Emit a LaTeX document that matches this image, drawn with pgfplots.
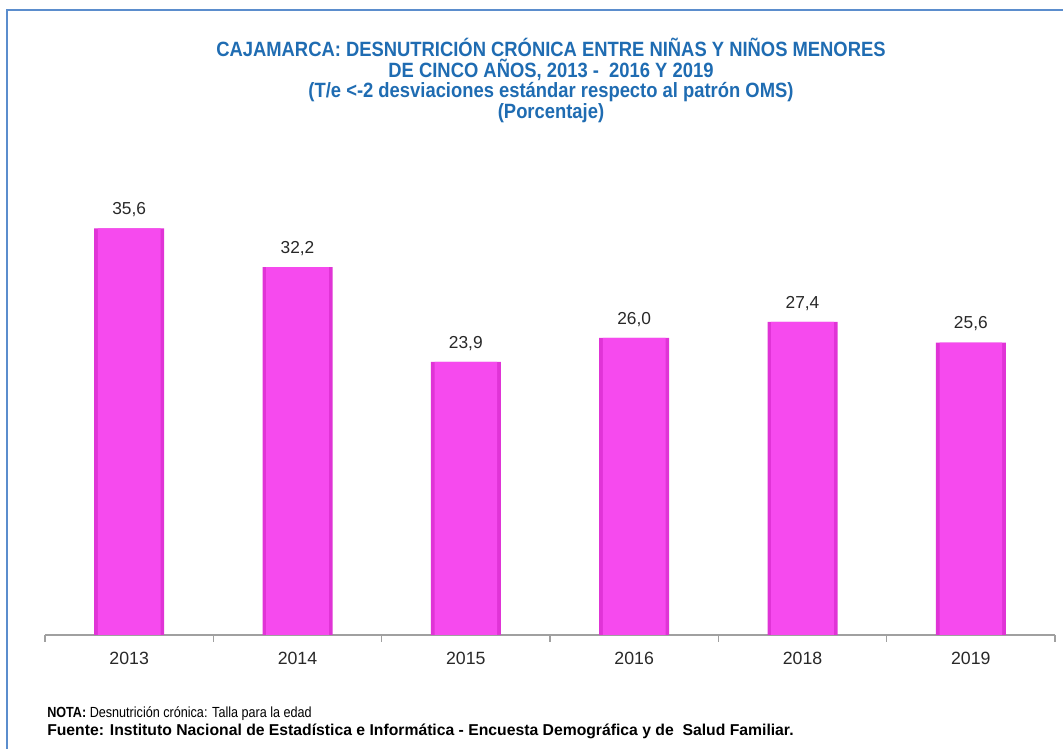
\documentclass[border=0pt]{standalone}
\usepackage{pgfplots}
\pgfplotsset{compat=1.18}
\usepackage{fontspec}
\setmainfont{Liberation Sans}
\newfontfamily\narrow[FakeStretch=0.86]{Liberation Sans}
\newfontfamily\titlefont[FakeStretch=0.89]{Liberation Sans}
\definecolor{titleblue}{RGB}{31,108,178}
\definecolor{frameblue}{RGB}{91,141,205}
\definecolor{mag}{RGB}{246,74,238}
\definecolor{magd}{RGB}{224,52,214}
\definecolor{axgray}{RGB}{160,160,160}
\definecolor{txt}{RGB}{40,40,40}
\begin{document}
\begin{tikzpicture}
\path[use as bounding box] (0,0) rectangle (797.25pt,561.75pt);
\draw[frameblue, line width=2.2pt] (5.25pt,-10pt) -- (5.25pt,554.25pt) -- (810pt,554.25pt);
\begin{axis}[
  at={(33.75pt,85.5pt)}, anchor=south west,
  scale only axis, width=757.5pt, height=342.75pt,
  xmin=-0.5, xmax=5.5, ymin=0, ymax=40,
  hide y axis,
  axis x line=bottom,
  x axis line style={-, draw=axgray, line width=1.3pt},
  xtick={0,1,2,3,4,5},
  xticklabels={2013,2014,2015,2016,2018,2019},
  major tick length=0pt,
  minor xtick={-0.5,0.5,1.5,2.5,3.5,4.5,5.5},
  minor tick length=5pt,
  tick align=outside,
  minor tick style={draw=axgray, line width=1pt},
  xticklabel style={font=\fontsize{13.3}{15}\selectfont, text=txt, yshift=-9pt},
  /pgf/number format/assume math mode=true,
  /pgf/number format/.cd, fixed, fixed zerofill, precision=1, use comma,
  /pgfplots/.cd,
  every node near coord/.append style={font=\fontsize{13}{15}\selectfont, text=txt, yshift=5pt},
  ybar, bar shift=0pt,
  clip=false,
]
\addplot[draw=none, fill=magd, bar width=52.5pt] coordinates {
(0,35.6) (1,32.2) (2,23.9) (3,26.0) (4,27.4) (5,25.6)};
\addplot[draw=none, fill=mag, bar width=47pt, nodes near coords] coordinates {
(0,35.6) (1,32.2) (2,23.9) (3,26.0) (4,27.4) (5,25.6)};
\end{axis}
\begin{scope}[every node/.style={text=titleblue, font=\titlefont\bfseries\fontsize{15.5}{18}\selectfont, inner sep=0pt}]
\node at (413.25pt,526.5pt) {CAJAMARCA: DESNUTRICIÓN CRÓNICA ENTRE NIÑAS Y NIÑOS MENORES};
\node at (413.25pt,509.25pt) {DE CINCO AÑOS, 2013 -\ \ 2016 Y 2019};
\node at (413.25pt,492.75pt) {(T/e <-2 desviaciones estándar respecto al patrón OMS)};
\node at (413.25pt,477pt) {(Porcentaje)};
\end{scope}
\node[anchor=west, inner sep=0pt, font=\narrow\fontsize{11}{13}\selectfont, text=black] at (35.25pt,26.25pt) {\textbf{NOTA:} Desnutrición crónica: Talla para la edad};
\node[anchor=west, inner sep=0pt, font=\bfseries\fontsize{11.8}{13}\selectfont, text=black] at (35.25pt,13.5pt) {Fuente: Instituto Nacional de Estadística e Informática - Encuesta Demográfica y de\ \ Salud Familiar.};
\end{tikzpicture}
\end{document}
